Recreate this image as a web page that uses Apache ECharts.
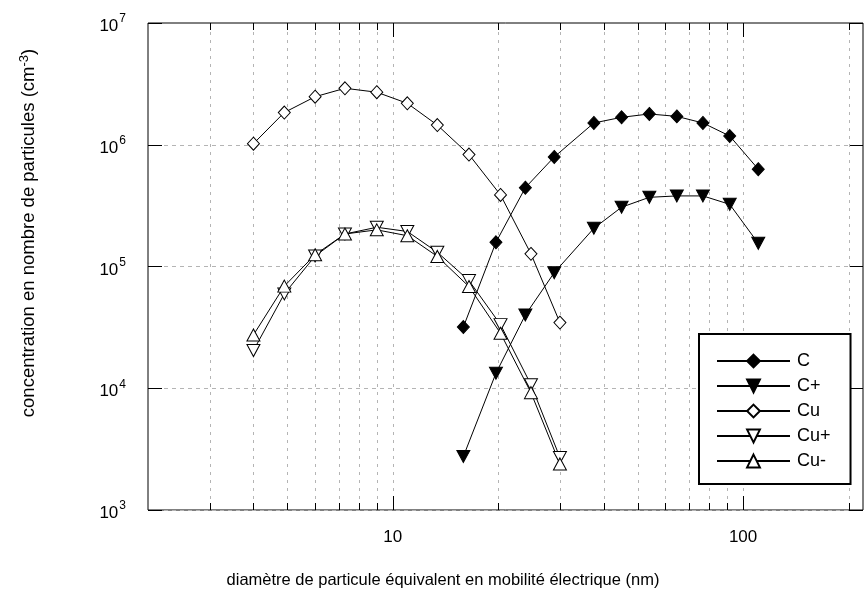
<!DOCTYPE html>
<html>
<head>
<meta charset="utf-8">
<script src="https://cdn.jsdelivr.net/npm/echarts@6/dist/echarts.min.js"></script>
<style>
  html, body { margin: 0; padding: 0; background: #fff; }
  #chart { width: 866px; height: 594px; }
</style>
</head>
<body>
<div id="chart"></div>
<script>
// diamètres (nm)
const cuX = [4.0, 4.9, 6.0, 7.3, 9.0, 11.0, 13.4, 16.5, 20.3, 24.8, 30.0]
const cX = [15.9, 19.7, 23.9, 28.9, 37.5, 45.0, 54.0, 64.7, 76.8, 91.6, 110.5]

// concentrations (cm-3)
const cY = [3.18e4, 1.58e5, 4.44e5, 7.94e5, 1.51e6, 1.68e6, 1.79e6, 1.71e6, 1.51e6, 1.18e6, 6.3e5]
const cPlusY = [2.75e3, 1.33e4, 4.0e4, 8.9e4, 2.06e5, 3.07e5, 3.7e5, 3.8e5, 3.8e5, 3.24e5, 1.55e5]
const cuY = [1.02e6, 1.84e6, 2.48e6, 2.91e6, 2.70e6, 2.19e6, 1.45e6, 8.3e5, 3.87e5, 1.27e5, 3.46e4]
const cuPlusY = [2.04e4, 5.96e4, 1.22e5, 1.85e5, 2.1e5, 1.94e5, 1.31e5, 7.66e4, 3.33e4, 1.07e4, 2.7e3]
const cuMinusY = [2.74e4, 6.9e4, 1.25e5, 1.85e5, 2.0e5, 1.79e5, 1.21e5, 6.84e4, 2.83e4, 9.2e3, 2.39e3]

// graduations de l'axe x
const xMinorTicks = [3, 4, 5, 6, 7, 8, 9, 20, 30, 40, 50, 60, 70, 80, 90, 200]
const xMajorTicks = [10, 100]

const xMin = 2, xMax = 220
const yMin = 1e3, yMax = 1e7

const font = 'Liberation Sans, Arial, Helvetica, sans-serif'

const zip = (xs, ys) => xs.map((x, i) => [x, ys[i]])
const isPow10 = (v) => Math.abs(Math.log10(v) - Math.round(Math.log10(v))) < 1e-6

const chart = echarts.init(document.getElementById('chart'))

const lineSeries = (name, xs, ys, symbol, filled, rotate) => ({
    name: name,
    type: 'line',
    data: zip(xs, ys),
    symbol: symbol,
    symbolRotate: rotate || 0,
    symbolSize: symbol === 'diamond' ? [12, 13] : [13, 12],
    showAllSymbol: true,
    xAxisIndex: 0,
    yAxisIndex: 0,
    z: 3,
    lineStyle: { color: '#000', width: 1 },
    itemStyle: filled
        ? { color: '#000', borderColor: '#000', borderWidth: 1 }
        : { color: '#fff', borderColor: '#000', borderWidth: 1 },
    emphasis: { disabled: true }
})

// grille + graduations verticales
const tickData = xMinorTicks.map(v => [v, yMin, 7]).concat(xMajorTicks.map(v => [v, yMin, 14]))

const option = {
    animation: false,
    backgroundColor: '#fff',
    grid: {
        left: 148,
        top: 23,
        right: -9,
        bottom: 84,
        show: true,
        borderColor: '#000',
        borderWidth: 1,
        backgroundColor: 'transparent'
    },
    xAxis: {
        type: 'log',
        logBase: 10,
        min: xMin,
        max: xMax,
        axisLine: { show: false },
        axisTick: { show: false },
        splitLine: { show: false },
        axisLabel: {
            margin: 19,
            fontSize: 17,
            fontFamily: font,
            color: '#000',
            formatter: (v) => isPow10(v) ? String(Math.round(v)) : ''
        }
    },
    yAxis: [
        {
            type: 'log',
            logBase: 10,
            min: yMin,
            max: yMax,
            axisLine: { show: false },
            axisTick: { show: true, inside: true, length: 14, lineStyle: { color: '#000' } },
            splitLine: {
                show: true,
                showMinLine: false,
                showMaxLine: false,
                lineStyle: { color: '#b4b4b4', type: [4, 4], width: 1 }
            },
            axisLabel: {
                margin: 22,
                fontSize: 17,
                fontFamily: font,
                color: '#000',
                formatter: (v) => '{b|10}{e|' + Math.round(Math.log10(v)) + '}',
                rich: {
                    b: { fontSize: 17, fontFamily: font, color: '#000', padding: [7, 0, 0, 0] },
                    e: { fontSize: 12, fontFamily: font, color: '#000', padding: [0, 0, 8, 1] }
                }
            }
        },
        {
            type: 'log',
            logBase: 10,
            min: yMin,
            max: yMax,
            position: 'right',
            axisLine: { show: false },
            axisTick: { show: true, inside: true, length: 14, lineStyle: { color: '#000' } },
            splitLine: { show: false },
            axisLabel: { show: false }
        }
    ],
    legend: {
        orient: 'vertical',
        left: 699,
        top: 334,
        padding: [18, 20, 14, 17],
        itemWidth: 73,
        itemHeight: 16,
        itemGap: 7,
        backgroundColor: '#fff',
        borderColor: '#000',
        borderWidth: 2,
        borderRadius: 0,
        selectedMode: false,
        data: ['C', 'C+', 'Cu', 'Cu+', 'Cu-'],
        textStyle: { fontSize: 18, fontFamily: font, color: '#000', padding: [0, 0, 0, 2] }
    },
    graphic: [
        {
            type: 'text',
            x: 443,
            y: 580,
            style: {
                text: 'diamètre de particule équivalent en mobilité électrique (nm)',
                font: '16.5px ' + font,
                fill: '#000',
                align: 'center',
                verticalAlign: 'middle'
            }
        },
        {
            type: 'text',
            x: 29,
            y: 233,
            rotation: Math.PI / 2,
            style: {
                text: 'concentration en nombre de particules (cm{s|-3})',
                font: '18.5px ' + font,
                fill: '#000',
                align: 'center',
                verticalAlign: 'middle',
                rich: {
                    s: { fontSize: 13, fontFamily: font, fill: '#000', padding: [0, 0, 10, 0] }
                }
            }
        }
    ],
    series: [
        {
            type: 'custom',
            silent: true,
            z: 1,
            xAxisIndex: 0,
            yAxisIndex: 0,
            data: tickData,
            encode: { x: 0, y: 1 },
            renderItem: (params, api) => {
                const v = api.value(0)
                const len = api.value(2)
                const top = api.coord([v, yMax])
                const bot = api.coord([v, yMin])
                const x = Math.round(top[0]) + 0.5
                return {
                    type: 'group',
                    children: [
                        {
                            type: 'line',
                            shape: { x1: x, y1: top[1] + 1, x2: x, y2: bot[1] - 1 },
                            style: { stroke: '#b4b4b4', lineWidth: 1, lineDash: [3, 5] }
                        },
                        {
                            type: 'line',
                            shape: { x1: x, y1: bot[1], x2: x, y2: bot[1] - len },
                            style: { stroke: '#000', lineWidth: 1 }
                        },
                        {
                            type: 'line',
                            shape: { x1: x, y1: top[1], x2: x, y2: top[1] + len },
                            style: { stroke: '#000', lineWidth: 1 }
                        }
                    ]
                }
            }
        },
        lineSeries('C', cX, cY, 'diamond', true),
        lineSeries('C+', cX, cPlusY, 'triangle', true, 180),
        lineSeries('Cu', cuX, cuY, 'diamond', false),
        lineSeries('Cu+', cuX, cuPlusY, 'triangle', false, 180),
        lineSeries('Cu-', cuX, cuMinusY, 'triangle', false)
    ]
}

chart.setOption(option)
</script>
</body>
</html>
